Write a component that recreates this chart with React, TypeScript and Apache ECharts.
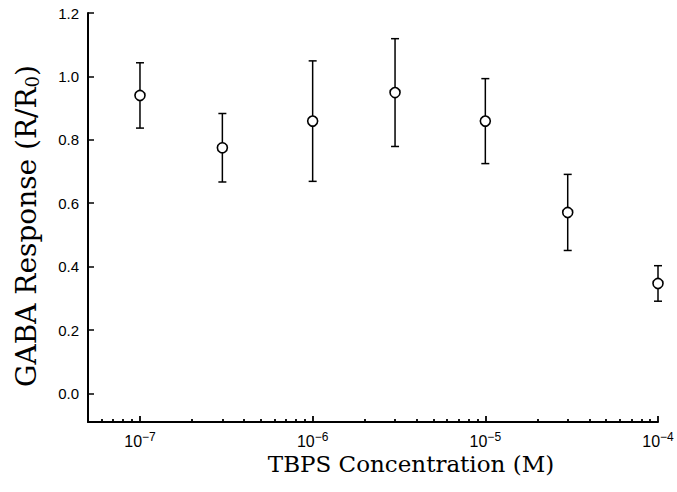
import React, { useEffect, useRef } from 'react';
import * as echarts from 'echarts';

// TBPS concentration (M)
const concentrations = [1e-7, 3e-7, 1e-6, 3e-6, 1e-5, 3e-5, 1e-4];
// GABA response R/R0 (mean)
const responses = [0.94, 0.775, 0.859, 0.949, 0.859, 0.571, 0.347];
// error bar half-length
const errors = [0.103, 0.108, 0.19, 0.17, 0.134, 0.12, 0.056];

const yTickValues = [0, 0.2, 0.4, 0.6, 0.8, 1.0, 1.2];
const xMajorTicks = [1e-7, 1e-6, 1e-5, 1e-4];
const xMinorTicks = [
  6e-8, 7e-8, 8e-8, 9e-8,
  2e-7, 3e-7, 4e-7, 5e-7, 6e-7, 7e-7, 8e-7, 9e-7,
  2e-6, 3e-6, 4e-6, 5e-6, 6e-6, 7e-6, 8e-6, 9e-6,
  2e-5, 3e-5, 4e-5, 5e-5, 6e-5, 7e-5, 8e-5, 9e-5,
];
const xMin = 5e-8;
const xMax = 1e-4;
const yMin = -0.09;
const yMax = 1.2;

export default function App() {
  const ref = useRef<HTMLDivElement>(null);

  useEffect(() => {
    if (!ref.current) return;
    const chart = echarts.init(ref.current, undefined, { renderer: 'svg' });
    const lg = (v: number) => Math.log10(v);
    const labelFont = "'Liberation Sans', Arial, sans-serif";
    const titleFont = "'DejaVu Serif', serif";

    const common = {
      type: 'value' as const,
      min: lg(xMin),
      max: lg(xMax),
      position: 'bottom' as const,
      splitLine: { show: false },
    };

    chart.setOption({
      animation: false,
      backgroundColor: '#ffffff',
      grid: { left: 88, right: 19, top: 13, bottom: 70, containLabel: false },
      xAxis: [
        {
          ...common,
          axisLine: { show: true, onZero: false, lineStyle: { color: '#000', width: 2 } },
          axisTick: {
            show: true,
            inside: true,
            length: 6,
            customValues: xMajorTicks.map(lg),
            lineStyle: { color: '#000', width: 1.8 },
          },
          axisLabel: {
            show: true,
            customValues: xMajorTicks.map(lg),
            margin: 9,
            formatter: (v: number) => `{b|10}{s|−${Math.round(-v)}}`,
            rich: {
              b: { fontSize: 16, fontFamily: labelFont, color: '#000', lineHeight: 21 },
              s: { fontSize: 12, fontFamily: labelFont, color: '#000', lineHeight: 12, verticalAlign: 'top' },
            },
          },
        },
        {
          ...common,
          axisLine: { show: false, onZero: false },
          axisTick: {
            show: true,
            inside: true,
            length: 3,
            customValues: xMinorTicks.map(lg),
            lineStyle: { color: '#000', width: 1.8 },
          },
          axisLabel: { show: false },
        },
      ],
      yAxis: {
        type: 'value',
        min: yMin,
        max: yMax,
        splitLine: { show: false },
        axisLine: { show: true, onZero: false, lineStyle: { color: '#000', width: 2 } },
        axisTick: {
          show: true,
          inside: true,
          length: 6,
          customValues: yTickValues,
          lineStyle: { color: '#000', width: 1.5 },
        },
        axisLabel: {
          show: true,
          customValues: yTickValues,
          margin: 9,
          fontSize: 15,
          fontFamily: labelFont,
          color: '#000',
          padding: [0, 0, 5, 0],
          formatter: (v: number) => v.toFixed(1),
        },
      },
      graphic: [
        {
          type: 'text',
          x: 26,
          y: 226,
          rotation: Math.PI / 2,
          style: {
            text: 'GABA Response (R/R{sub|0})',
            font: `28px ${titleFont}`,
            fill: '#000',
            align: 'center',
            verticalAlign: 'middle',
            lineHeight: 30,
            rich: {
              sub: { fontSize: 18, fontFamily: titleFont, fill: '#000', lineHeight: 18, verticalAlign: 'bottom' },
            },
          },
        },
        {
          type: 'text',
          x: 411,
          y: 464,
          style: {
            text: 'TBPS Concentration (M)',
            font: `23px ${titleFont}`,
            fill: '#000',
            align: 'center',
            verticalAlign: 'middle',
          },
        },
      ],
      series: [
        {
          type: 'custom',
          xAxisIndex: 0,
          z: 2,
          encode: { x: 0, y: [1, 2] },
          data: concentrations.map((c, i) => [lg(c), responses[i] - errors[i], responses[i] + errors[i]]),
          renderItem: (params: any, api: any) => {
            const x = api.value(0);
            const pLo = api.coord([x, api.value(1)]);
            const pHi = api.coord([x, api.value(2)]);
            const cap = 4;
            const st = { stroke: '#000', lineWidth: 1.5 };
            return {
              type: 'group',
              children: [
                { type: 'line', shape: { x1: pHi[0], y1: pHi[1], x2: pLo[0], y2: pLo[1] }, style: st },
                { type: 'line', shape: { x1: pHi[0] - cap, y1: pHi[1], x2: pHi[0] + cap, y2: pHi[1] }, style: st },
                { type: 'line', shape: { x1: pLo[0] - cap, y1: pLo[1], x2: pLo[0] + cap, y2: pLo[1] }, style: st },
              ],
            };
          },
        },
        {
          type: 'scatter',
          xAxisIndex: 0,
          z: 3,
          symbol: 'circle',
          symbolSize: 10,
          itemStyle: { color: '#fff', borderColor: '#000', borderWidth: 1.6, opacity: 1 },
          data: concentrations.map((c, i) => [lg(c), responses[i]]),
        },
      ],
    });

    return () => chart.dispose();
  }, []);

  return (
    <div
      ref={ref}
      style={{ position: 'absolute', left: 0, top: 0, width: 677, height: 492, background: '#fff' }}
    />
  );
}
